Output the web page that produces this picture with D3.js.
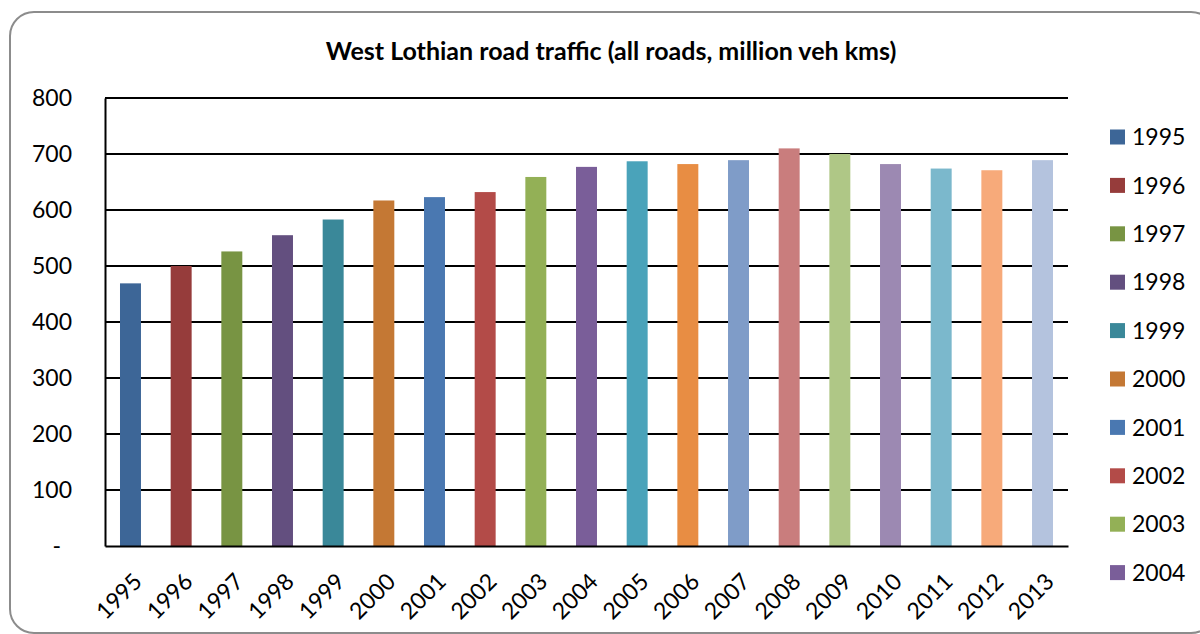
<!DOCTYPE html>
<html>
<head>
<meta charset="utf-8">
<script src="https://cdn.jsdelivr.net/npm/d3@7"></script>
<style>
  body { margin: 0; background: #fff; }
  svg { display: block; font-family: Lato, "Open Sans", sans-serif; }
</style>
</head>
<body>
<svg id="chart" width="1200" height="634"></svg>
<script>
const years = ["1995", "1996", "1997", "1998", "1999", "2000", "2001", "2002", "2003", "2004",
  "2005", "2006", "2007", "2008", "2009", "2010", "2011", "2012", "2013"];
const traffic = [469, 500, 526, 555, 583, 617, 623, 632, 659, 677,
  687, 682, 689, 710, 700, 682, 674, 671, 689];
const colors = ["#3d6697", "#963c3b", "#789443", "#634f7f", "#3a8899", "#c47834", "#4a78b1",
  "#b34b48", "#93b056", "#7a5e99", "#4aa3ba", "#e88d43", "#7f9cc8", "#c97d7d", "#afc786",
  "#9c89b2", "#7bb8cc", "#f7aa7a", "#b4c3de"];
const yTicks = [0, 100, 200, 300, 400, 500, 600, 700, 800];
const legendYears = years.slice(0, 10);

const svg = d3.select("#chart");

const margin = {top: 98, left: 105, right: 132, bottom: 88};
const width = 1200;
const height = 634;

// outer frame
svg.append("rect")
  .attr("x", 10).attr("y", 12)
  .attr("width", 1205).attr("height", 621)
  .attr("rx", 24).attr("ry", 24)
  .attr("fill", "#fff")
  .attr("stroke", "#8c8c8c")
  .attr("stroke-width", 2);

svg.append("text")
  .attr("x", 611).attr("y", 60)
  .attr("text-anchor", "middle")
  .attr("font-size", 25)
  .attr("font-weight", "bold")
  .text("West Lothian road traffic (all roads, million veh kms)");

const xScale = d3.scaleBand()
  .domain(years)
  .range([margin.left, width - margin.right])
  .paddingInner(0.586)
  .paddingOuter(0.296);

const yScale = d3.scaleLinear()
  .domain([0, 800])
  .range([height - margin.bottom, margin.top]);

// gridlines
svg.append("g").attr("class", "grid")
  .selectAll("line")
  .data(yTicks.slice(1))
  .enter()
  .append("line")
  .attr("x1", margin.left)
  .attr("x2", width - margin.right)
  .attr("y1", (d) => yScale(d))
  .attr("y2", (d) => yScale(d))
  .attr("stroke", "#000")
  .attr("stroke-width", 2);

svg.append("g").attr("class", "bars")
  .selectAll("rect")
  .data(traffic)
  .enter()
  .append("rect")
  .attr("x", (d, i) => xScale(years[i]))
  .attr("width", xScale.bandwidth())
  .attr("y", (d) => yScale(d))
  .attr("height", (d) => yScale(0) - yScale(d))
  .attr("fill", (d, i) => colors[i]);

// y axis
const yAxis = d3.axisLeft(yScale)
  .tickValues(yTicks)
  .tickSize(0)
  .tickPadding(33)
  .tickFormat((d) => d === 0 ? "-" : d);
const yAxisGroup = svg.append("g")
  .attr("transform", `translate(${margin.left}, 0)`)
  .call(yAxis);
yAxisGroup.select(".domain").attr("stroke", "#000").attr("stroke-width", 2);
yAxisGroup.selectAll("text")
  .attr("font-size", 23)
  .attr("font-family", "Lato")
  .attr("fill", "#000")
  .attr("dx", (d) => d === 0 ? -11 : 0);

// x axis
const xAxis = d3.axisBottom(xScale).tickSize(0).tickPadding(0);
const xAxisGroup = svg.append("g")
  .attr("transform", `translate(0, ${yScale(0)})`)
  .call(xAxis);
xAxisGroup.select(".domain").attr("stroke", "#000").attr("stroke-width", 2);
xAxisGroup.selectAll("text")
  .attr("font-size", 23)
  .attr("font-family", "Lato")
  .attr("fill", "#000")
  .attr("text-anchor", "end")
  .attr("dy", null)
  .attr("y", null)
  .attr("transform", "translate(0, 24) rotate(-45)")
  .attr("dominant-baseline", "hanging");

// legend
const legend = svg.append("g").attr("class", "legend")
  .selectAll("g")
  .data(legendYears)
  .enter()
  .append("g")
  .attr("transform", (d, i) => `translate(1110, ${137 + i * 48.4})`);
legend.append("rect")
  .attr("x", 0).attr("y", -7.5)
  .attr("width", 15).attr("height", 15)
  .attr("fill", (d, i) => colors[i]);
legend.append("text")
  .attr("x", 22)
  .attr("dy", "0.36em")
  .attr("font-size", 23)
  .text((d) => d);
</script>
</body>
</html>
